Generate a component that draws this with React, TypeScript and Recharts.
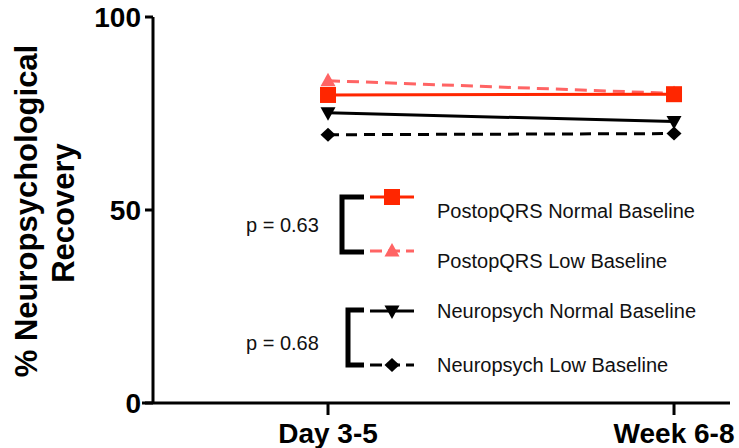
import React from 'react';
import { LineChart, Line, XAxis, YAxis, ReferenceLine, Customized } from 'recharts';

const categories = ['Day 3-5', 'Week 6-8'];
const qrsNormal = [79.8, 80.0];
const qrsLow = [83.5, 80.2];
const npNormal = [75.2, 72.9];
const npLow = [69.5, 69.8];
const yTicks = [0, 50, 100];

const RED = '#FF2600';
const LIGHTRED = '#FF6464';
const BLACK = '#000000';
const FONT = '"Liberation Sans", Arial, Helvetica, sans-serif';

const data = categories.map((c, i) => ({
  x: i,
  label: c,
  qrsNormal: qrsNormal[i],
  qrsLow: qrsLow[i],
  npNormal: npNormal[i],
  npLow: npLow[i],
}));

type Shape = 'square' | 'triangle' | 'triangleDown' | 'diamond';

function Marker({ cx, cy, shape, color }: { cx: number; cy: number; shape: Shape; color: string }) {
  if (cx == null || cy == null) return null;
  if (shape === 'square') {
    return <rect x={cx - 8} y={cy - 8} width={16} height={16} fill={color} />;
  }
  if (shape === 'triangle') {
    return <polygon points={`${cx},${cy - 8} ${cx + 7.5},${cy + 5.5} ${cx - 7.5},${cy + 5.5}`} fill={color} />;
  }
  if (shape === 'triangleDown') {
    return <polygon points={`${cx},${cy + 8} ${cx + 7.5},${cy - 5.5} ${cx - 7.5},${cy - 5.5}`} fill={color} />;
  }
  return <polygon points={`${cx},${cy - 7} ${cx + 7.5},${cy} ${cx},${cy + 7} ${cx - 7.5},${cy}`} fill={color} />;
}

const makeDot = (name: string, shape: Shape, color: string) => (props: any) => (
  <Marker key={`${name}-${props.index}`} cx={props.cx} cy={props.cy} shape={shape} color={color} />
);

const legendRows = [
  { label: 'PostopQRS Normal Baseline', shape: 'square' as Shape, color: RED, dash: undefined, my: 197, ty: 218 },
  { label: 'PostopQRS Low Baseline', shape: 'triangle' as Shape, color: LIGHTRED, dash: '12 6', my: 251, ty: 268 },
  { label: 'Neuropsych Normal Baseline', shape: 'triangleDown' as Shape, color: BLACK, dash: undefined, my: 311, ty: 318 },
  { label: 'Neuropsych Low Baseline', shape: 'diamond' as Shape, color: BLACK, dash: '12 6', my: 365, ty: 372 },
];

const pValues = [
  { text: 'p = 0.63', ty: 232, bx: 342, top: 197, bottom: 252 },
  { text: 'p = 0.68', ty: 350, bx: 348, top: 310, bottom: 365 },
];

function Overlay() {
  return (
    <g>
      <text
        transform="translate(37,211) rotate(-90)"
        textAnchor="middle"
        fontFamily={FONT}
        fontWeight="bold"
        fontSize={31}
        fill="#000"
      >
        % Neuropsychological
      </text>
      <text
        transform="translate(74,213) rotate(-90)"
        textAnchor="middle"
        fontFamily={FONT}
        fontWeight="bold"
        fontSize={31}
        fill="#000"
      >
        Recovery
      </text>
      {pValues.map((p) => (
        <g key={p.text}>
          <path
            d={`M ${364} ${p.top} H ${p.bx} V ${p.bottom} H ${364}`}
            fill="none"
            stroke="#000"
            strokeWidth={5}
            strokeLinejoin="miter"
          />
          <text x={246} y={p.ty} fontFamily={FONT} fontSize={20} fill="#111">
            {p.text}
          </text>
        </g>
      ))}
      {legendRows.map((r) => (
        <g key={r.label}>
          <line x1={370} x2={414} y1={r.my} y2={r.my} stroke={r.color} strokeWidth={3} strokeDasharray={r.dash} />
          <Marker cx={392} cy={r.my} shape={r.shape} color={r.color} />
          <text x={437} y={r.ty} fontFamily={FONT} fontSize={20} fill="#111">
            {r.label}
          </text>
        </g>
      ))}
    </g>
  );
}

export default function App() {
  return (
    <div style={{ position: 'absolute', left: 0, top: 0, width: 739, height: 448, background: '#fff' }}>
      <LineChart width={739} height={448} data={data} margin={{ top: 17, right: 9, bottom: 0, left: 0 }}>
        <XAxis
          type="number"
          dataKey="x"
          domain={[-0.5058, 1.1618]}
          allowDataOverflow
          ticks={[0, 1]}
          tickFormatter={(v: number) => categories[v]}
          axisLine={false}
          tickLine={{ stroke: '#000', strokeWidth: 3 }}
          tickSize={12}
          tickMargin={8}
          height={45}
          tick={{ fill: '#000', fontSize: 28, fontWeight: 'bold', fontFamily: FONT }}
        />
        <YAxis
          type="number"
          domain={[0, 100]}
          ticks={yTicks}
          width={153}
          axisLine={{ stroke: '#000', strokeWidth: 3 }}
          tickLine={{ stroke: '#000', strokeWidth: 3 }}
          tickSize={8}
          tickMargin={4}
          tick={{ fill: '#000', fontSize: 28, fontWeight: 'bold', fontFamily: FONT }}
        />
        <ReferenceLine
          segment={[
            { x: -0.5376, y: 0 },
            { x: 1.1618, y: 0 },
          ]}
          ifOverflow="visible"
          stroke="#000"
          strokeWidth={3}
        />
        <Line
          dataKey="npLow"
          stroke={BLACK}
          strokeWidth={3}
          strokeDasharray="11 7"
          dot={makeDot('npLow', 'diamond', BLACK)}
          isAnimationActive={false}
        />
        <Line
          dataKey="npNormal"
          stroke={BLACK}
          strokeWidth={3}
          dot={makeDot('npNormal', 'triangleDown', BLACK)}
          isAnimationActive={false}
        />
        <Line
          dataKey="qrsLow"
          stroke={LIGHTRED}
          strokeWidth={3}
          strokeDasharray="12 7"
          dot={makeDot('qrsLow', 'triangle', LIGHTRED)}
          isAnimationActive={false}
        />
        <Line
          dataKey="qrsNormal"
          stroke={RED}
          strokeWidth={3}
          dot={makeDot('qrsNormal', 'square', RED)}
          isAnimationActive={false}
        />
        <Customized component={Overlay} />
      </LineChart>
    </div>
  );
}
